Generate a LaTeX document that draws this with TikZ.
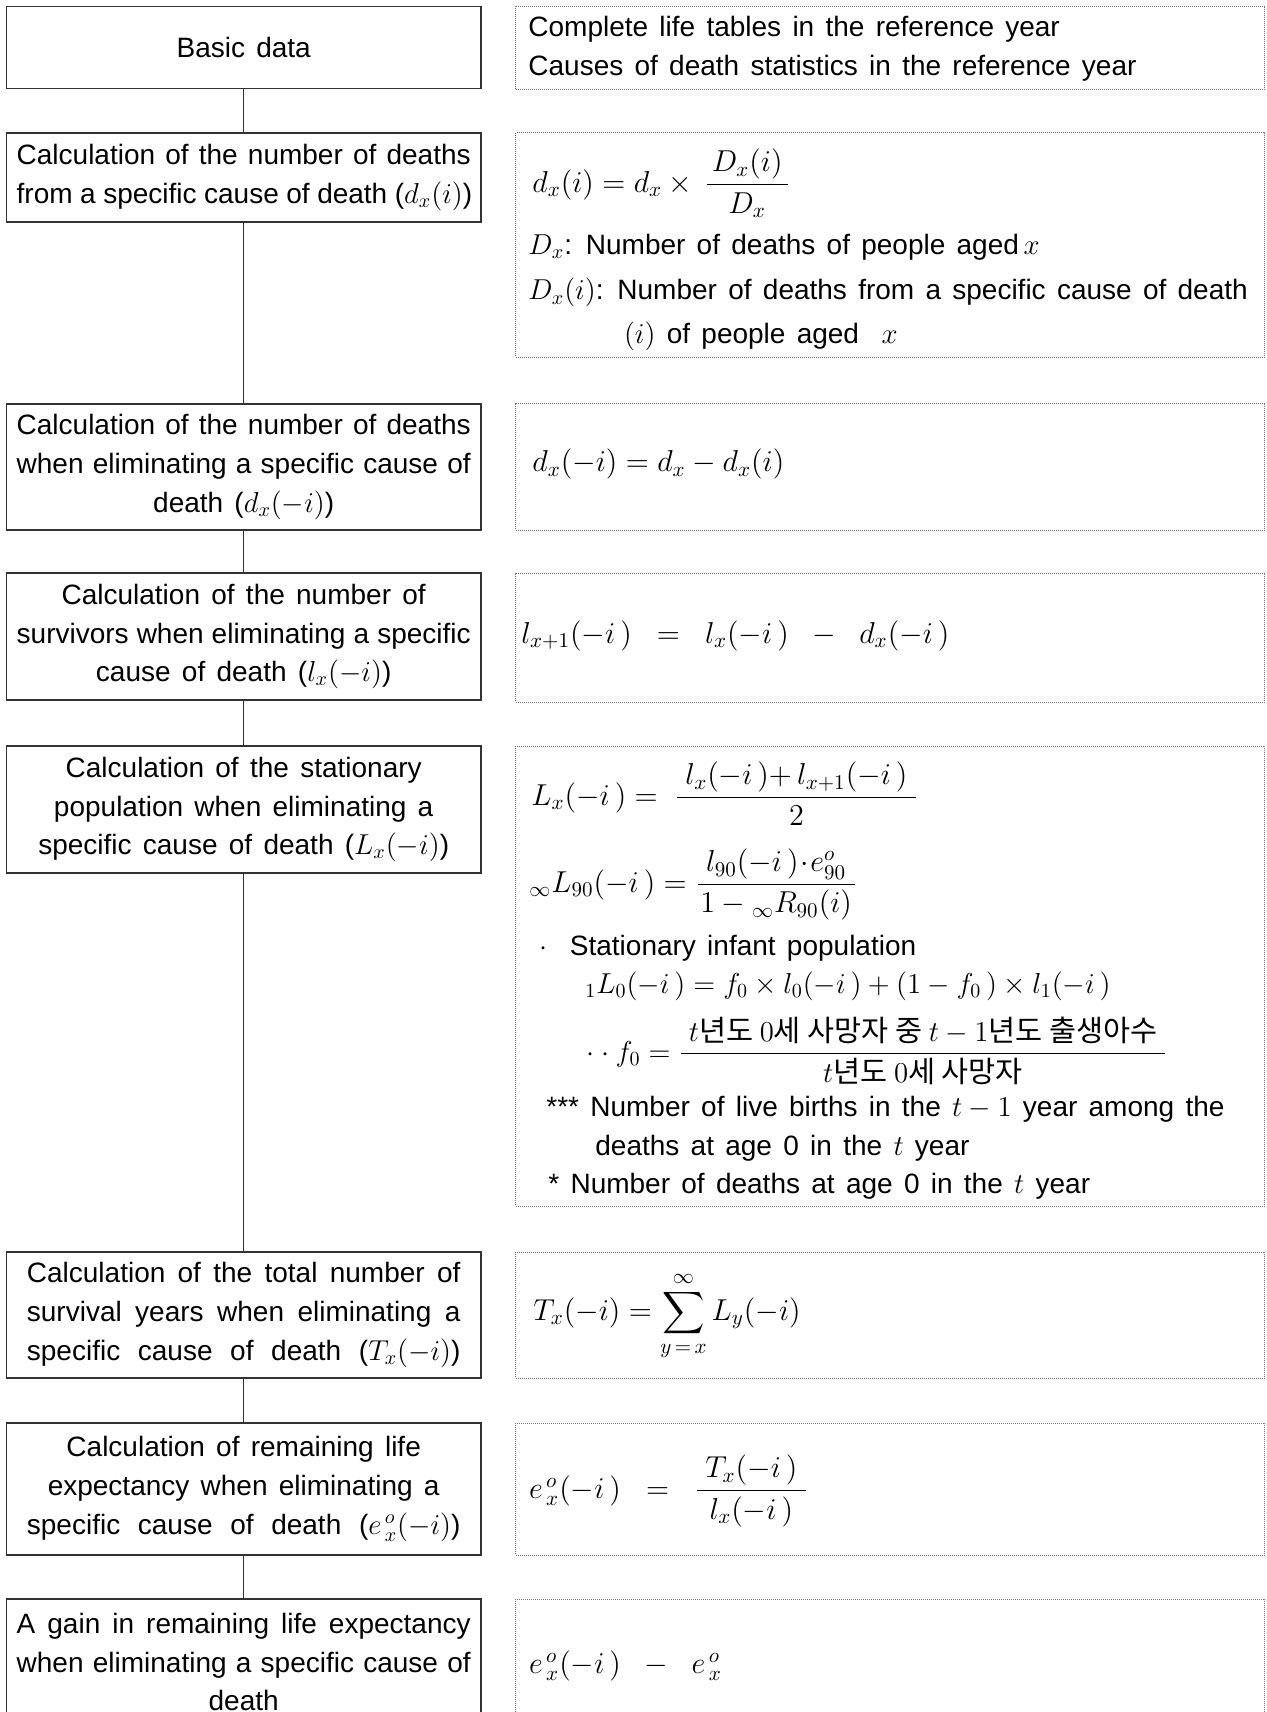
\documentclass[tikz,border=0pt]{standalone}
\usepackage{amsmath,amssymb}
\usepackage{fontspec}
\setmainfont{Liberation Sans}[WordSpace=1.45]
\newfontfamily\kr{Noto Sans CJK KR}[Scale=1.05]
\usetikzlibrary{arrows.meta}
\newcommand\fullline[2][227pt]{\makebox[#1][s]{#2}}
\newcommand\bigmath[1]{\scalebox{1.05}{#1}}

\begin{document}
\begin{tikzpicture}[x=0.5pt,y=-0.5pt,
  stepbox/.style={draw=black!80,line width=0.7pt,minimum width=237.25pt,inner sep=0pt,align=center,font=\fontsize{14}{19.3}\selectfont},
  formbox/.style={draw=black!55,line width=0.5pt,dash pattern=on 0.5pt off 0.5pt,minimum width=374.5pt,inner sep=0pt},
  txt/.style={anchor=west,inner sep=0pt,font=\fontsize{14}{19.3}\selectfont},
  conn/.style={draw=black!80,line width=0.6pt}]
\useasboundingbox (0,0) rectangle (1267,1712);
% left column
\node[stepbox,minimum height=41pt](b1) at (243.7,47.5){Basic data};
\node[stepbox,minimum height=44.5pt](b2) at (243.7,177.5){\fullline{Calculation of the number of deaths}\\ \fullline{from a specific cause of death ($d_x(i)$)}};
\node[stepbox,minimum height=63pt](b3) at (243.7,467){\fullline{Calculation of the number of deaths}\\ \fullline{when eliminating a specific cause of}\\ death ($d_x(-i)$)};
\node[stepbox,minimum height=63.5pt](b4) at (243.7,636.5){Calculation of the number of\\ \fullline{survivors when eliminating a specific}\\ cause of death ($l_x(-i)$)};
\node[stepbox,minimum height=63.5pt](b5) at (243.7,809.5){Calculation of the stationary\\ population when eliminating a\\ specific cause of death ($L_x(-i)$)};
\node[stepbox,minimum height=63pt](b6) at (243.7,1315){\fullline[216.8pt]{Calculation of the total number of}\\ \fullline[216.8pt]{survival years when eliminating a}\\ \fullline[216.8pt]{specific cause of death ($T_x(-i)$)}};
\node[stepbox,minimum height=66pt](b7) at (243.7,1489){Calculation of remaining life\\ expectancy when eliminating a\\ \fullline[216.8pt]{specific cause of death ($e^{\,o}_{\,x}(-i)$)}};
\node[stepbox,minimum height=63pt](b8) at (243.7,1662){\fullline{A gain in remaining life expectancy}\\ \fullline{when eliminating a specific cause of}\\ death};
\draw[conn](b1)--(b2);
\draw[conn](b2)--(b3);
\draw[conn](b3)--(b4);
\draw[conn](b4)--(b5);
\draw[conn](b5)--(b6);
\draw[conn](b6)--(b7);
\draw[conn](b7)--(b8);
% right column
\node[formbox,minimum height=41.5pt](r1) at (890,48){};
\node[formbox,minimum height=112pt](r2) at (890,245){};
\node[formbox,minimum height=63.5pt](r3) at (890,466.5){};
\node[formbox,minimum height=64.5pt](r4) at (890,637.5){};
\node[formbox,minimum height=230pt](r5) at (890,976){};
\node[formbox,minimum height=63pt](r6) at (890,1315){};
\node[formbox,minimum height=66pt](r7) at (890,1489){};
\node[formbox,minimum height=63pt](r8) at (890,1662){};
\node[txt,align=left](t1) at (528,49){Complete life tables in the reference year\\ Causes of death statistics in the reference year};
\node[txt](t2a) at (532,183.5){\bigmath{$d_x(i) = d_x \times \,\dfrac{\,D_x(i)\,}{D_x}$}};
\node[txt](t2b) at (528,247){$D_x$: Number of deaths of people aged\,$x$};
\node[txt](t2c) at (528,292.7){$D_x(i)$: Number of deaths from a specific cause of death};
\node[txt](t2d) at (623.6,336.4){$(i)$ of people aged \ $x$};
\node[txt](t3) at (532,464){\bigmath{$d_x(-i) = d_x - d_x(i)$}};
\node[txt](t4) at (521,635.7){\bigmath{$l_{x+1}(-i\,)\;\;=\;\;l_x(-i\,)\;\;-\;\;d_x(-i\,)$}};
\node[txt](t5a) at (531,794){\bigmath{$L_x(-i\,) = \;\dfrac{\;l_x(-i\,){+}\,l_{x+1}(-i\,)\;}{2}$}};
\node[txt](t5b) at (529,884.7){\bigmath{${}_{\infty}L_{90}(-i\,) = \dfrac{\;l_{90}(-i\,)\!\cdot\! e^{o}_{90}\;}{1-{}_{\infty}R_{90}(i)}$}};
\node[txt](t5c) at (539.5,948){$\cdot$\hspace{11pt}Stationary infant population};
\node[txt](t5d) at (585,986){${}_1L_0(-i\,) = f_0\times l_0(-i\,)+(1-f_0\,)\times l_1(-i\,)$};
\node[txt](t5e) at (586.5,1050.7){$\cdot\cdot f_0 = \dfrac{\;t\text{\kr 년도 }0\text{\kr 세 사망자 중 }t-1\text{\kr 년도 출생아수}\;}{t\text{\kr 년도 }0\text{\kr 세 사망자}}$};
\node[txt](t5f) at (546,1109.7){*** Number of live births in the $t-1$ year among the};
\node[txt](t5g) at (595,1148){deaths at age 0 in the $t$ year};
\node[txt](t5h) at (548,1186){* Number of deaths at age 0 in the $t$ year};
\node[txt](t6) at (533,1316){\bigmath{$T_x(-i) = \displaystyle\sum_{y\,=\,x}^{\infty} L_y(-i)$}};
\node[txt](t7) at (528.6,1491){\bigmath{$e^{\,o}_{\,x}(-i\,)\;\;=\;\;\dfrac{\;T_x(-i\,)\;}{l_x(-i\,)}$}};
\node[txt](t8) at (528.6,1665.6){\bigmath{$e^{\,o}_{\,x}(-i\,)\;\;-\;\;e^{\,o}_{\,x}$}};
\end{tikzpicture}
\end{document}
